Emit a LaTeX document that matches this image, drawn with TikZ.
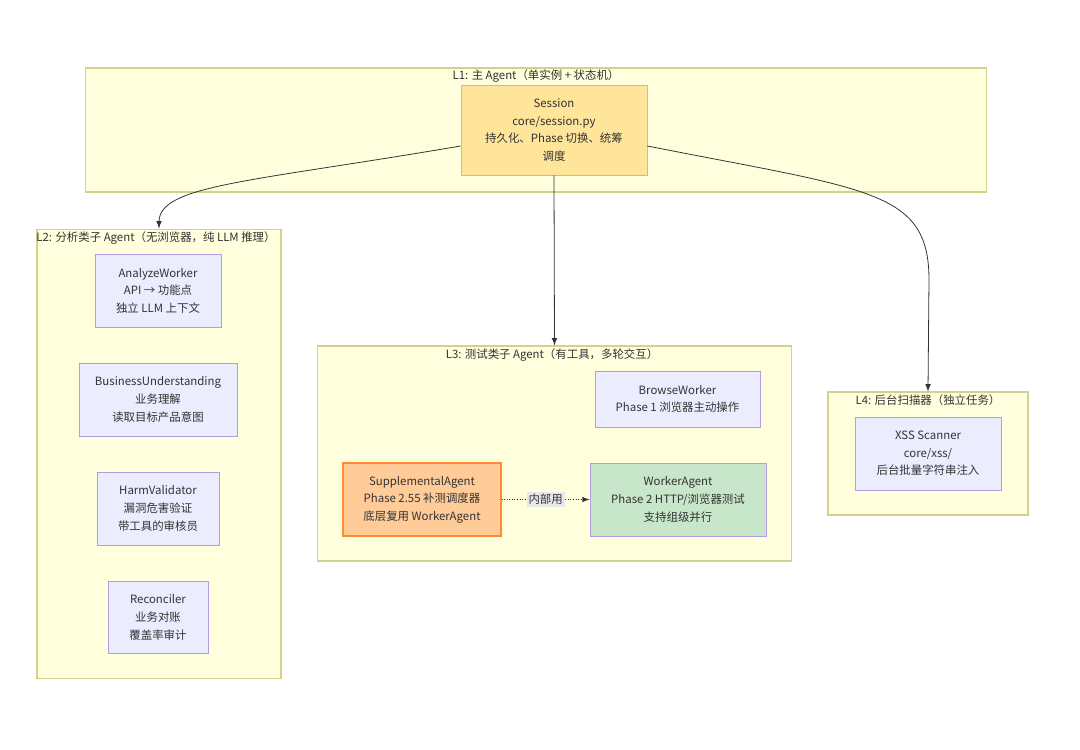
\documentclass[tikz,border=0pt]{standalone}
\usepackage{fontspec}
\setmainfont{Noto Sans CJK SC}
\usetikzlibrary{positioning}
\definecolor{clfill}{HTML}{FFFFDE}
\definecolor{cldraw}{HTML}{D2D28A}
\definecolor{nfill}{HTML}{ECECFF}
\definecolor{ndraw}{HTML}{B39DE0}
\definecolor{sessfill}{HTML}{FFE599}
\definecolor{suppfill}{HTML}{FFCC99}
\definecolor{suppdraw}{HTML}{FF8A33}
\definecolor{wafill}{HTML}{C8E6C9}
\definecolor{txt}{HTML}{333333}
\definecolor{lblfill}{HTML}{E8E8E8}

\begin{document}
\begin{tikzpicture}[
			x=0.02cm, y=-0.02cm,
			every node/.style = {text=txt, font=\fontsize{6.5}{10}\selectfont},
			cluster/.style = {draw=cldraw, fill=clfill, line width=.6pt, inner sep=0},
			title/.style = {inner sep=1pt},
			main/.style = {draw=ndraw, fill=nfill, line width=.5pt, align=center,
				inner sep=0, minimum height=1.46cm},
			flow/.style = {draw=txt, line width=.45pt, -latex},
			node distance=2.18cm
		]
		\useasboundingbox (0,0) rectangle (1080,750);
		% Clusters.
		\node[cluster, minimum width=18.04cm, minimum height=2.48cm] (l1) at (536,130) {};
		\node[cluster, minimum width=4.88cm, minimum height=9cm] (l2) at (159,454) {};
		\node[cluster, minimum width=9.5cm, minimum height=4.3cm] (l3) at (554.5,453.5) {};
		\node[cluster, minimum width=4cm, minimum height=2.46cm] (l4) at (928,453.5) {};
		\node[title] (l1t) at (536,76) {L1: 主 Agent（单实例 + 状态机）};
		\node[title] (l2t) at (156,238) {L2: 分析类子 Agent（无浏览器，纯 LLM 推理）};
		\node[title] (l3t) at (552,355) {L3: 测试类子 Agent（有工具，多轮交互）};
		\node[title] (l4t) at (928,400) {L4: 后台扫描器（独立任务）};
		% L1.
		\node[main, fill=sessfill, draw=ndraw!80, minimum width=3.72cm, minimum height=1.8cm]
			(sess) at (554,130) {Session\\core/session.py\\持久化、Phase 切换、统筹\\调度};
		% L2.
		\node[main, minimum width=2.52cm] (aw) at (158,290.5) {AnalyzeWorker\\API → 功能点\\独立 LLM 上下文};
		\node[main, minimum width=3.16cm, below of=aw] (bu) {BusinessUnderstanding\\业务理解\\读取目标产品意图};
		\node[main, minimum width=2.44cm, below of=bu] (hv) {HarmValidator\\漏洞危害验证\\带工具的审核员};
		\node[main, minimum width=2cm, below of=hv] (rc) {Reconciler\\业务对账\\覆盖率审计};
		% L3.
		\node[main, minimum width=3.3cm, minimum height=1.12cm] (bw) at (677.5,399) {BrowseWorker\\Phase 1 浏览器主动操作};
		\node[main, fill=suppfill, draw=suppdraw, line width=.8pt, minimum width=3.16cm]
			(sa) at (422,499.5) {SupplementalAgent\\Phase 2.55 补测调度器\\底层复用 WorkerAgent};
		\node[main, fill=wafill, minimum width=3.52cm] (wa) at (678,499.5) {WorkerAgent\\Phase 2 HTTP/浏览器测试\\支持组级并行};
		% L4.
		\node[main, minimum width=2.92cm] (xss) at (928,453.5) {XSS Scanner\\core/xss/\\后台批量字符串注入};

		\draw[flow] ([yshift=-0.32cm]sess.west) .. controls (250,182) and (159,185) .. (l2.north);
		\draw[flow] (sess.south) -- (l3.north);
		\draw[flow] ([yshift=-0.32cm]sess.east) .. controls (870,190) and (929,190) .. (929,280) -- (l4.north);
		\draw[flow, densely dotted] (sa) -- node[fill=lblfill, inner sep=1pt] (lbl) {内部用} (wa);
	\end{tikzpicture}
\end{document}
